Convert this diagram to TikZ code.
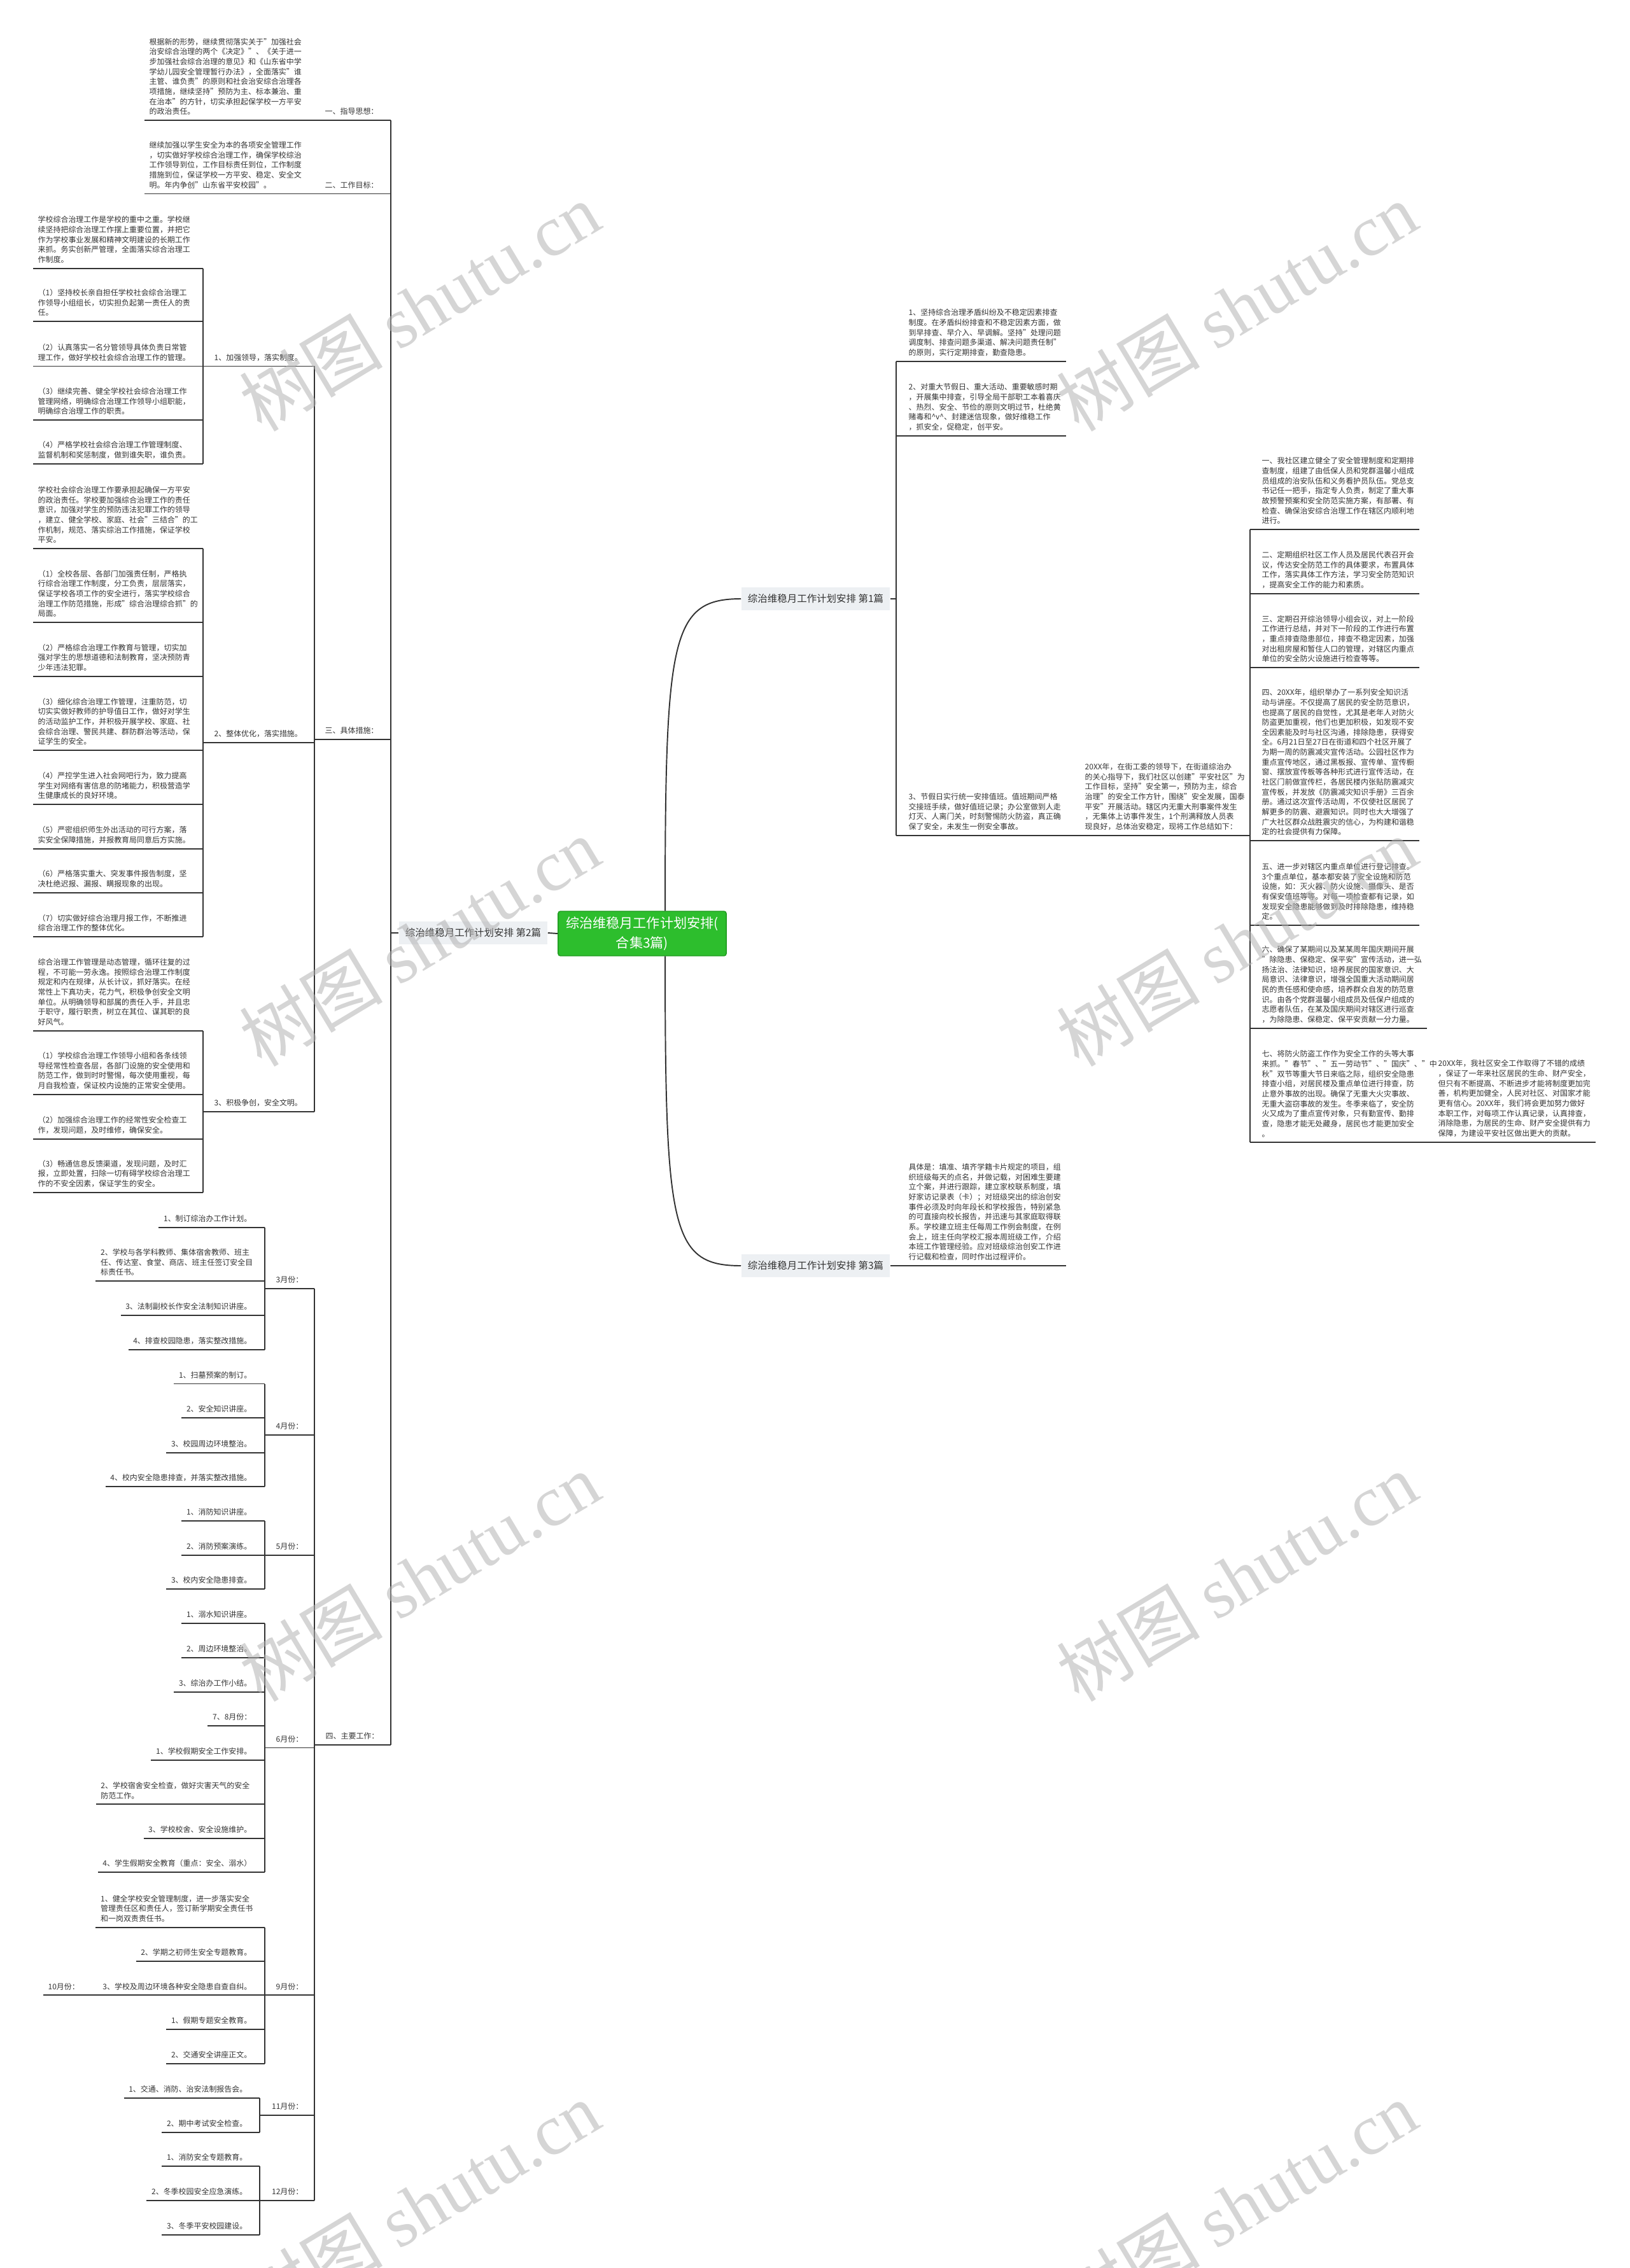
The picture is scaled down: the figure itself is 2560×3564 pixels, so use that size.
\documentclass[tikz,border=0pt]{standalone}
\usepackage{fontspec}
\setmainfont{Noto Sans CJK SC}
\newfontfamily\markserif{Liberation Serif}
\usepackage{xcolor}
\definecolor{inkdark} {HTML}{333333}
\definecolor{hubgreen}{HTML}{2DBE2D}
\definecolor{hubedge} {HTML}{1F9A1F}
\definecolor{tabfill} {HTML}{EDF0F3}

\begin{document}
\begin{tikzpicture}[x=0.01cm,y=-0.01cm,
    ln/.style={draw=inkdark,line width=0.55pt},
    leaf/.style={inner xsep=0.07cm,inner ysep=0.075cm,align=left,text=inkdark,font=\fontsize{3.4pt}{4.45pt}\selectfont},
    leafl/.style={leaf,anchor=south west},
    leafr/.style={leaf,anchor=south east},
    tab/.style={fill=tabfill,inner sep=0pt,minimum width=2.33cm,minimum height=0.36cm,text=inkdark,font=\fontsize{4.4pt}{5pt}\selectfont},
    hub/.style={fill=hubgreen,draw=hubedge,line width=0.4pt,rounded corners=1pt,minimum width=2.64cm,minimum height=0.70cm,inner sep=0pt,align=center,text=white,font=\fontsize{6pt}{9pt}\selectfont},
    wmark/.style={rotate=31,text=black!30,opacity=0.55,inner sep=0pt,font=\fontsize{32pt}{32pt}\selectfont}]
    \useasboundingbox (0,0) rectangle (2560,3564);

    % bracket columns
    \coordinate (k2)  at (614,0);
    \coordinate (k3)  at (494,0);
    \coordinate (k31) at (319,0);
    \coordinate (k5)  at (416,0);
    \coordinate (k6)  at (408,0);
    \coordinate (kr1) at (1408,0);
    \coordinate (kr2) at (1964,0);

    % centre and the three parts
    \node[hub] (hub) at (1009,1467) {综治维稳月工作计划安排(\\合集3篇)};
    \node[tab] (p1) at (1281.5,941)  {综治维稳月工作计划安排 第1篇};
    \node[tab] (p2) at (743.5,1466)  {综治维稳月工作计划安排 第2篇};
    \node[tab] (p3) at (1281.5,1989) {综治维稳月工作计划安排 第3篇};

    % part 2: headings
    \node[leafl] (g1) at (503,189)    {一、指导思想：};
    \node[leafl] (g2) at (503,304.5)  {二、工作目标：};
    \node[leafl] (g3) at (503,1162)   {三、具体措施：};
    \node[leafl] (g4) at (504,2742)   {四、主要工作：};
    \node[leafl] (a1) at (227,189) {根据新的形势，继续贯彻落实关于"加强社会\\治安综合治理的两个《决定》"、《关于进一\\步加强社会综合治理的意见》和《山东省中学\\学幼儿园安全管理暂行办法》，全面落实"谁\\主管、谁负责"的原则和社会治安综合治理各\\项措施，继续坚持"预防为主、标本兼治、重\\在治本"的方针，切实承担起保学校一方平安\\的政治责任。};
    \node[leafl] (a2) at (227,304.5) {继续加强以学生安全为本的各项安全管理工作\\，切实做好学校综合治理工作，确保学校综治\\工作领导到位，工作目标责任到位，工作制度\\措施到位，保证学校一方平安、稳定、安全文\\明。年内争创"山东省平安校园"。};

    % part 2: measures
    \node[leafl] (h1) at (329,575.5)  {1、加强领导，落实制度。};
    \node[leafl] (h2) at (329,1167)   {2、整体优化，落实措施。};
    \node[leafl] (h3) at (329,1746.6) {3、积极争创，安全文明。};

    \node[leafl] (h1a) at (52,421.6) {学校综合治理工作是学校的重中之重。学校继\\续坚持把综合治理工作摆上重要位置，并把它\\作为学校事业发展和精神文明建设的长期工作\\来抓。务实创新严管理，全面落实综合治理工\\作制度。};
    \node[leafl] (h1b) at (52,505)   {（1）坚持校长亲自担任学校社会综合治理工\\作领导小组组长，切实担负起第一责任人的责\\任。};
    \node[leafl] (h1c) at (52,575.5) {（2）认真落实一名分管领导具体负责日常管\\理工作，做好学校社会综合治理工作的管理。};
    \node[leafl] (h1d) at (52,660)   {（3）继续完善、健全学校社会综合治理工作\\管理网络，明确综合治理工作领导小组职能，\\明确综合治理工作的职责。};
    \node[leafl] (h1e) at (52,729)   {（4）严格学校社会综合治理工作管理制度、\\监督机制和奖惩制度，做到谁失职，谁负责。};

    \node[leafl] (h2a) at (52,862)    {学校社会综合治理工作要承担起确保一方平安\\的政治责任。学校要加强综合治理工作的责任\\意识，加强对学生的预防违法犯罪工作的领导\\，建立、健全学校、家庭、社会"三结合"的工\\作机制，规范、落实综治工作措施，保证学校\\平安。};
    \node[leafl] (h2b) at (52,978)    {（1）全校各层、各部门加强责任制，严格执\\行综合治理工作制度，分工负责，层层落实，\\保证学校各项工作的安全进行，落实学校综合\\治理工作防范措施，形成"综合治理综合抓"的\\局面。};
    \node[leafl] (h2c) at (52,1062.6) {（2）严格综合治理工作教育与管理，切实加\\强对学生的思想道德和法制教育，坚决预防青\\少年违法犯罪。};
    \node[leafl] (h2d) at (52,1179)   {（3）细化综合治理工作管理，注重防范，切\\切实实做好教师的护导值日工作，做好对学生\\的活动监护工作，并积极开展学校、家庭、社\\会综合治理、警民共建、群防群治等活动，保\\证学生的安全。};
    \node[leafl] (h2e) at (52,1264)   {（4）严控学生进入社会网吧行为，致力提高\\学生对网络有害信息的防堵能力，积极营造学\\生健康成长的良好环境。};
    \node[leafl] (h2f) at (52,1333.7) {（5）严密组织师生外出活动的可行方案，落\\实安全保障措施，并报教育局同意后方实施。};
    \node[leafl] (h2g) at (52,1402.6) {（6）严格落实重大、突发事件报告制度，坚\\决杜绝迟报、漏报、瞒报现象的出现。};
    \node[leafl] (h2h) at (52,1472)   {（7）切实做好综合治理月报工作，不断推进\\综合治理工作的整体优化。};

    \node[leafl] (h3a) at (52,1619.6) {综合治理工作管理是动态管理，循环往复的过\\程，不可能一劳永逸。按照综合治理工作制度\\规定和内在规律，从长计议，抓好落实。在经\\常性上下真功夫，花力气，积极争创安全文明\\单位。从明确领导和部属的责任入手，并且忠\\于职守，履行职责，树立在其位、谋其职的良\\好风气。};
    \node[leafl] (h3b) at (52,1720) {（1）学校综合治理工作领导小组和各条线领\\导经常性检查各层，各部门设施的安全使用和\\防范工作，做到时时警惕，每次使用重视，每\\月自我检查，保证校内设施的正常安全使用。};
    \node[leafl] (h3c) at (52,1790) {（2）加强综合治理工作的经常性安全检查工\\作，发现问题，及时维修，确保安全。};
    \node[leafl] (h3d) at (52,1874) {（3）畅通信息反馈渠道，发现问题，及时汇\\报，立即处置，扫除一切有碍学校综合治理工\\作的不安全因素，保证学生的安全。};

    % part 2: months
    \node[leafl] (mo3)  at (426,2025)   {3月份：};
    \node[leafl] (mo4)  at (426,2255)   {4月份：};
    \node[leafl] (mo5)  at (426,2444)   {5月份：};
    \node[leafl] (mo6)  at (426,2746.5) {6月份：};
    \node[leafl] (mo9)  at (426,3135.4) {9月份：};
    \node[leafl] (mo11) at (419.5,3323.6) {11月份：};
    \node[leafl] (mo12) at (419.5,3458)   {12月份：};

    \node[leafr] (mo3a) at (403,1928.6) {1、制订综治办工作计划。};
    \node[leafr] (mo3b) at (405,2013)   {2、学校与各学科教师、集体宿舍教师、班主\\任、传达室、食堂、商店、班主任签订安全目\\标责任书。};
    \node[leafr] (mo3c) at (403,2067)   {3、法制副校长作安全法制知识讲座。};
    \node[leafr] (mo3d) at (403,2120.6) {4、排查校园隐患，落实整改措施。};
    \node[leafr] (mo4a) at (403,2174.5) {1、扫墓预案的制订。};
    \node[leafr] (mo4b) at (403,2227.8) {2、安全知识讲座。};
    \node[leafr] (mo4c) at (403,2282.7) {3、校园周边环境整治。};
    \node[leafr] (mo4d) at (403,2336)   {4、校内安全隐患排查，并落实整改措施。};
    \node[leafr] (mo5a) at (403,2390)   {1、消防知识讲座。};
    \node[leafr] (mo5b) at (403,2444)   {2、消防预案演练。};
    \node[leafr] (mo5c) at (403,2497)   {3、校内安全隐患排查。};
    \node[leafr] (mo6a) at (403,2551)   {1、溺水知识讲座。};
    \node[leafr] (mo6b) at (403,2605)   {2、周边环境整治。};
    \node[leafr] (mo6c) at (403,2659)   {3、综治办工作小结。};
    \node[leafr] (mo6d) at (403,2712)   {7、8月份：};
    \node[leafr] (mo6e) at (403,2765.7) {1、学校假期安全工作安排。};
    \node[leafr] (mo6f) at (400,2835.4) {2、学校宿舍安全检查，做好灾害天气的安全\\防范工作。};
    \node[leafr] (mo6g) at (403,2889)   {3、学校校舍、安全设施维护。};
    \node[leafr] (mo6h) at (403,2942)   {4、学生假期安全教育（重点：安全、溺水）};
    \node[leafr] (mo9a) at (405,3028.5) {1、健全学校安全管理制度，进一步落实安全\\管理责任区和责任人，签订新学期安全责任书\\和一岗双责责任书。};
    \node[leafr] (mo9b) at (403,3082)   {2、学期之初师生安全专题教育。};
    \node[leafr] (mo9c) at (403,3135.4) {3、学校及周边环境各种安全隐患自查自纠。};
    \node[leafl] (m10)  at (68,3135.4)  {10月份：};
    \node[leafr] (mo9d) at (403,3189)   {1、假期专题安全教育。};
    \node[leafr] (mo9e) at (403,3243)   {2、交通安全讲座正文。};
    \node[leafr] (mo11a) at (396,3297)  {1、交通、消防、治安法制报告会。};
    \node[leafr] (mo11b) at (396,3351)  {2、期中考试安全检查。};
    \node[leafr] (mo12a) at (396,3404)  {1、消防安全专题教育。};
    \node[leafr] (mo12b) at (396,3458)  {2、冬季校园安全应急演练。};
    \node[leafr] (mo12c) at (396,3511.7){3、冬季平安校园建设。};

    % part 1
    \node[leafl] (r1) at (1420,568)  {1、坚持综合治理矛盾纠纷及不稳定因素排查\\制度。在矛盾纠纷排查和不稳定因素方面，做\\到早排查、早介入、早调解。坚持"处理问题\\调度制、排查问题多渠道、解决问题责任制"\\的原则，实行定期排查，勤查隐患。};
    \node[leafl] (r2) at (1420,685)  {2、对重大节假日、重大活动、重要敏感时期\\，开展集中排查，引导全局干部职工本着喜庆\\、热烈、安全、节俭的原则文明过节，杜绝黄\\赌毒和\textasciicircum v\textasciicircum 、封建迷信现象，做好维稳工作\\，抓安全，促稳定，创平安。};
    \node[leafl] (r3) at (1420,1313) {3、节假日实行统一安排值班。值班期间严格\\交接班手续，做好值班记录；办公室做到人走\\灯灭、人离门关，时刻警惕防火防盗，真正确\\保了安全，未发生一例安全事故。};
    \node[leafl] (r4) at (1697,1313) {20XX年，在街工委的领导下，在街道综治办\\的关心指导下，我们社区以创建"平安社区"为\\工作目标，坚持"安全第一，预防为主，综合\\治理"的安全工作方针，围绕"安全发展，国泰\\平安"开展活动。辖区内无重大刑事案件发生\\，无集体上访事件发生，1个刑满释放人员表\\现良好，总体治安稳定，现将工作总结如下：};

    \node[leafl] (s1) at (1975,832)  {一、我社区建立健全了安全管理制度和定期排\\查制度，组建了由低保人员和党群温馨小组成\\员组成的治安队伍和义务看护员队伍。党总支\\书记任一把手，指定专人负责，制定了重大事\\故预警预案和安全防范实施方案，有部署、有\\检查、确保治安综合治理工作在辖区内顺利地\\进行。};
    \node[leafl] (s2) at (1975,933)  {二、定期组织社区工作人员及居民代表召开会\\议，传达安全防范工作的具体要求，布置具体\\工作，落实具体工作方法，学习安全防范知识\\，提高安全工作的能力和素质。};
    \node[leafl] (s3) at (1975,1049) {三、定期召开综治领导小组会议，对上一阶段\\工作进行总结，并对下一阶段的工作进行布置\\，重点排查隐患部位，排查不稳定因素，加强\\对出租房屋和暂住人口的管理，对辖区内重点\\单位的安全防火设施进行检查等等。};
    \node[leafl] (s4) at (1975,1321) {四、20XX年，组织举办了一系列安全知识活\\动与讲座。不仅提高了居民的安全防范意识，\\也提高了居民的自觉性，尤其是老年人对防火\\防盗更加重视，他们也更加积极，如发现不安\\全因素能及时与社区沟通，排除隐患，获得安\\全。6月21日至27日在街道和四个社区开展了\\为期一周的防震减灾宣传活动。公园社区作为\\重点宣传地区，通过黑板报、宣传单、宣传橱\\窗、摆放宣传板等各种形式进行宣传活动，在\\社区门前做宣传栏，各居民楼内张贴防震减灾\\宣传板，并发放《防震减灾知识手册》三百余\\册。通过这次宣传活动周，不仅使社区居民了\\解更多的防震、避震知识。同时也大大增强了\\广大社区群众战胜震灾的信心，为构建和谐稳\\定的社会提供有力保障。};
    \node[leafl] (s5) at (1975,1454) {五、进一步对辖区内重点单位进行登记排查。\\3个重点单位，基本都安装了安全设施和防范\\设施，如：灭火器、防火设施、摄像头、是否\\有保安值班等等。对每一项检查都有记录，如\\发现安全隐患能够做到及时排除隐患，维持稳\\定。};
    \node[leafl] (s6) at (1975,1616) {六、确保了某期间以及某某周年国庆期间开展\\"除隐患、保稳定、保平安"宣传活动，进一弘\\扬法治、法律知识，培养居民的国家意识、大\\局意识、法律意识，增强全国重大活动期间居\\民的责任感和使命感，培养群众自发的防范意\\识。由各个党群温馨小组成员及低保户组成的\\志愿者队伍，在某及国庆期间对辖区进行巡查\\，为除隐患、保稳定、保平安贡献一分力量。};
    \node[leafl] (s7) at (1975,1795) {七、将防火防盗工作作为安全工作的头等大事\\来抓。"春节"、"五一劳动节"、"国庆"、"中\\秋"双节等重大节日来临之际，组织安全隐患\\排查小组，对居民楼及重点单位进行排查，防\\止意外事故的出现。确保了无重大火灾事故、\\无重大盗窃事故的发生。冬季来临了，安全防\\火又成为了重点宣传对象，只有勤宣传、勤排\\查，隐患才能无处藏身，居民也才能更加安全\\。};
    \node[leafl] (s8) at (2252,1795) {20XX年，我社区安全工作取得了不错的成绩\\，保证了一年来社区居民的生命、财产安全，\\但只有不断提高、不断进步才能将制度更加完\\善，机构更加健全，人民对社区、对国家才能\\更有信心。20XX年，我们将会更加努力做好\\本职工作，对每项工作认真记录，认真排查，\\消除隐患，为居民的生命、财产安全提供有力\\保障，为建设平安社区做出更大的贡献。};

    % part 3
    \node[leafl] (t1) at (1420,1989) {具体是：填准、填齐学籍卡片规定的项目，组\\织班级每天的点名，并做记载，对困难生要建\\立个案，并进行跟踪，建立家校联系制度，填\\好家访记录表（卡）；对班级突出的综治创安\\事件必须及时向年段长和学校报告，特别紧急\\的可直接向校长报告，并迅速与其家庭取得联\\系。学校建立班主任每周工作例会制度，在例\\会上，班主任向学校汇报本周班级工作，介绍\\本班工作管理经验。应对班级综治创安工作进\\行记载和检查，同时作出过程评价。};

    % connectors from the centre
    \draw[ln] ([xshift=0.36cm]hub.north) .. controls +(0,-430) and +(-110,0) .. (p1.west);
    \draw[ln] ([xshift=0.36cm]hub.south) .. controls +(0,430) and +(-110,0) .. (p3.west);
    \draw[ln] (hub.west) -- (p2.east);

    % part 2 lines
    \draw[ln] (p2.west) -- (k2 |- p2.west);
    \draw[ln] (k2 |- g1.south) -- (k2 |- g4.south);
    \draw[ln] (a1.south west) -- (k2 |- g1.south);
    \draw[ln] (a2.south west) -- (k2 |- g2.south);
    \draw[ln] (k3 |- g3.south) -- (k2 |- g3.south);
    \draw[ln] (k3 |- g4.south) -- (k2 |- g4.south);
    \draw[ln] (k3 |- h1.south) -- (k3 |- h3.south);
    \foreach \h in {h1,h2,h3}
      \draw[ln] (k31 |- \h.south) -- (k3 |- \h.south);
    \foreach \c in {h1a,h1b,h1c,h1d,h1e,h2a,h2b,h2c,h2d,h2e,h2f,h2g,h2h,h3a,h3b,h3c,h3d}
      \draw[ln] (\c.south west) -- (k31 |- \c.south);
    \draw[ln] (k31 |- h1a.south) -- (k31 |- h1e.south);
    \draw[ln] (k31 |- h2a.south) -- (k31 |- h2h.south);
    \draw[ln] (k31 |- h3a.south) -- (k31 |- h3d.south);

    % month lines
    \draw[ln] (k3 |- mo3.south) -- (k3 |- mo12.south);
    \foreach \m in {mo3,mo4,mo5,mo6,mo9}
      \draw[ln] (k5 |- \m.south) -- (k3 |- \m.south);
    \foreach \m in {mo11,mo12}
      \draw[ln] (k6 |- \m.south) -- (k3 |- \m.south);
    \foreach \c in {mo3a,mo3b,mo3c,mo3d,mo4a,mo4b,mo4c,mo4d,mo5a,mo5b,mo5c,mo6a,mo6b,mo6c,mo6d,mo6e,mo6f,mo6g,mo6h,mo9a,mo9b,mo9d,mo9e}
      \draw[ln] (\c.south west) -- (k5 |- \c.south);
    \draw[ln] (m10.south west) -- (mo9c.south west) -- (k5 |- mo9c.south);
    \foreach \c in {mo11a,mo11b,mo12a,mo12b,mo12c}
      \draw[ln] (\c.south west) -- (k6 |- \c.south);
    \draw[ln] (k5 |- mo3a.south) -- (k5 |- mo3d.south);
    \draw[ln] (k5 |- mo4a.south) -- (k5 |- mo4d.south);
    \draw[ln] (k5 |- mo5a.south) -- (k5 |- mo5c.south);
    \draw[ln] (k5 |- mo6a.south) -- (k5 |- mo6h.south);
    \draw[ln] (k5 |- mo9a.south) -- (k5 |- mo9e.south);
    \draw[ln] (k6 |- mo11a.south) -- (k6 |- mo11b.south);
    \draw[ln] (k6 |- mo12a.south) -- (k6 |- mo12c.south);

    % part 1 lines
    \draw[ln] (p1.east) -- (kr1 |- p1.east);
    \draw[ln] (kr1 |- r1.south) -- (kr1 |- r3.south);
    \draw[ln] (kr1 |- r1.south) -- (r1.south east);
    \draw[ln] (kr1 |- r2.south) -- (r2.south east);
    \draw[ln] (kr1 |- r3.south) -- (r3.south east) -- (r4.south west) -- (kr2 |- r4.south);
    \draw[ln] (kr2 |- s1.south) -- (kr2 |- s7.south);
    \foreach \s in {s1,s2,s3,s4,s5,s6}
      \draw[ln] (kr2 |- \s.south) -- (\s.south east);
    \draw[ln] (kr2 |- s7.south) -- (s7.south east) -- (s8.south west) -- (s8.south east);

    % part 3 line
    \draw[ln] (p3.east) -- (t1.south west) -- (t1.south east);

    % watermark
    \foreach \wx in {659,1943} {
      \foreach \wy in {482,1480,2478,3466} {
        \node[wmark] (wm-\wx-\wy) at (\wx,\wy) {树图 {\markserif shutu.cn}};
      }
    }
  \end{tikzpicture}
\end{document}
